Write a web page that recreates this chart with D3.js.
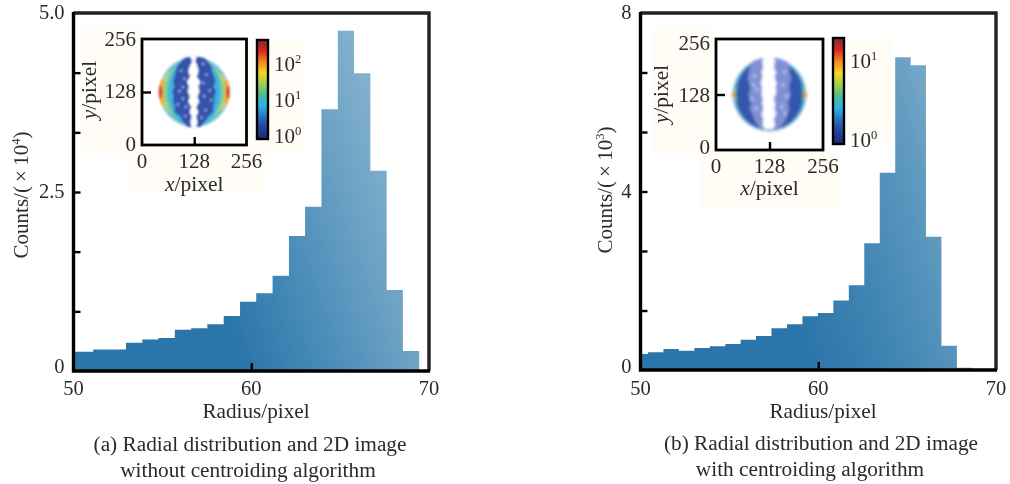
<!DOCTYPE html>
<html><head><meta charset="utf-8">
<script src="https://cdn.jsdelivr.net/npm/d3@7"></script>
<style>
html,body{margin:0;padding:0;background:#fff}
svg{display:block}
text{font-family:"Liberation Serif",serif;fill:#2b2b2b}
</style></head><body>
<svg id="c" width="1010" height="484"></svg>
<script>
// ---------- data ----------
const edgesA = [50,51.11,52.03,52.95,53.87,54.78,55.70,56.62,57.53,58.45,59.37,60.28,61.20,62.12,63.03,63.95,64.87,65.78,66.70,67.62,68.53,69.45];
const countsA = [0.27,0.30,0.30,0.395,0.44,0.46,0.577,0.596,0.652,0.768,0.968,1.085,1.331,1.885,2.295,3.655,4.753,4.158,2.797,1.131,0.279];
const edgesB = [50,50.42,51.29,52.16,53.03,53.90,54.77,55.63,56.50,57.37,58.24,59.11,59.98,60.85,61.72,62.59,63.46,64.33,65.20,66.06,66.93,67.80,68.67];
const countsB = [0.359,0.397,0.471,0.433,0.493,0.531,0.583,0.679,0.762,0.934,1.024,1.203,1.277,1.557,1.898,2.839,4.421,7.007,6.828,2.987,0.545,0.052];
const xTicks = [50,60,70];
const yLabelsA = [0,2.5,5.0];
const yTicksA = [0.833,1.667,2.5,3.333,4.167];
const yLabelsB = [0,4,8];
const yTicksB = [1.333,2.667,4,5.333,6.667];
const insetTicks = [0,128,256];
// inset image rows (pixel coordinates)
const rowsA = [214,202,190,178,165,153,141,129,117,104,92,80,68,56,43];
const bandOuterLA = [106,96,86,83,79,76,79,74,77,76,81,79,94,100,112];
const bandInnerLA = [118,123,117,113,118,110,115,112,117,113,121,116,122,118,122];
const bandInnerRA = [133,131,136,139,134,143,138,141,136,140,133,138,133,136,133];
const bandOuterRA = [152,161,170,172,177,180,175,182,177,178,174,175,162,154,143];
const specksA = [[96,180],[104,160],[92,130],[100,112],[108,92],[88,98],[106,70],[150,196],[158,170],[150,150],[166,132],[152,118],[170,108],[156,84],[146,66],[100,140]];
const rowsB = [215,203,191,179,167,155,143,131,119,107,95,83,71,59,47];
const paleLB = [91,84,81,79,76,79,83,78,81,84,81,87,91,99,106];
const paleRB = [165,172,177,175,180,177,174,179,175,172,175,170,167,159,150];
const gapLB = [114,110,113,108,111,106,110,108,111,110,113,108,113,111,116];
const gapRB = [138,142,138,145,140,146,143,145,138,143,140,145,138,142,137];
const specksB = [[92,170],[98,140],[86,118],[96,96],[90,150],[164,180],[160,150],[170,124],[158,100],[166,84]];
// colour bar stops and labels
const jetStops = ["#7a2b35","#e2231f","#f58a20","#f3d52a","#9fcf4a","#45bd9a","#28b2e4","#2a6fb8","#23409a","#1d2a72"];
const cbLabelsA = [["2",71],["1",107],["0",143]];
const cbLabelsB = [["1",68],["0",147]];

const svg = d3.select("#c");
const defs = svg.append("defs");
defs.append("filter").attr("id","soft").append("feGaussianBlur").attr("stdDeviation",0.55);
defs.append("filter").attr("id","softT").append("feGaussianBlur").attr("stdDeviation",0.35);
defs.append("filter").attr("id","imga").attr("x","-10%").attr("y","-10%").attr("width","120%").attr("height","120%").append("feGaussianBlur").attr("stdDeviation",1.0);
defs.append("filter").attr("id","imgb").attr("x","-10%").attr("y","-10%").attr("width","120%").attr("height","120%").append("feGaussianBlur").attr("stdDeviation",1.7);
const cb = defs.append("linearGradient").attr("id","jet").attr("x1",0).attr("x2",0).attr("y1",0).attr("y2",1);
jetStops.forEach((c,i)=>cb.append("stop").attr("offset",i/(jetStops.length-1)).attr("stop-color",c));

function supLabel(g,x,y,anchor,size,base,sup,opts={}){
  const t=g.append("text").attr("x",x).attr("y",y).attr("text-anchor",anchor).attr("font-size",size);
  t.append("tspan").text(base);
  t.append("tspan").attr("font-size",size*0.6).attr("dy",-size*0.36).text(sup);
  if(opts.after) t.append("tspan").attr("dy",size*0.36).text(opts.after);
  return t;
}

function panel(o){
  const root = svg.append("g");
  // cream patches behind the inset
  root.selectAll("rect.patch").data(o.patches).join("rect").attr("class","patch")
    .attr("x",d=>d[0]).attr("y",d=>d[1]).attr("width",d=>d[2]).attr("height",d=>d[3]).attr("fill","#fffdf6");
  const x = d3.scaleLinear().domain([50,70]).range([o.l,o.r]);
  const y = d3.scaleLinear().domain([0,o.yMax]).range([o.b,o.t]);
  const grad = defs.append("linearGradient").attr("id","g"+o.id).attr("gradientUnits","userSpaceOnUse")
    .attr("x1",o.l+170).attr("y1",o.b).attr("x2",o.l+380).attr("y2",o.b-75);
  o.stops.forEach(s=>grad.append("stop").attr("offset",s[0]).attr("stop-color",s[1]));
  const steps = o.counts.map((c,i)=>({e:o.edges[i],c})).concat([{e:o.edges[o.counts.length],c:o.counts[o.counts.length-1]}]);
  root.append("path").attr("filter","url(#soft)")
    .attr("d",d3.area().curve(d3.curveStepAfter).x(d=>x(d.e)).y0(o.b).y1(d=>y(d.c))(steps))
    .attr("fill","url(#g"+o.id+")");
  // frame
  const fr = root.append("g").attr("filter","url(#soft)");
  fr.append("path").attr("d",`M${o.l},${o.t}H${o.r}V${o.b}`).attr("fill","none").attr("stroke","#222").attr("stroke-width",3.4);
  fr.append("path").attr("d",`M${o.l},${o.t-1}V${o.b}H${o.r+1}`).attr("fill","none").attr("stroke","#000").attr("stroke-width",3.4);
  const ay = fr.append("g").attr("transform",`translate(${o.l},0)`).call(d3.axisLeft(y).tickValues(o.yTicks).tickSize(-7).tickFormat(""));
  const ax = fr.append("g").attr("transform",`translate(0,${o.b})`).call(d3.axisBottom(x).tickValues([60]).tickSize(-8).tickFormat(""));
  [ay,ax].forEach(a=>{a.select(".domain").remove();a.selectAll("line").attr("stroke","#000").attr("stroke-width",2.4);});
  // text
  const T = root.append("g").attr("filter","url(#softT)");
  T.selectAll("text.xl").data(xTicks).join("text").attr("class","xl").attr("x",d=>x(d)).attr("y",395)
    .attr("text-anchor","middle").attr("font-size",20.5).text(d=>d);
  T.selectAll("text.yl").data(o.yLabels).join("text").attr("class","yl").attr("x",o.l-9)
    .attr("y",d=>d===0?373:y(d)+6).attr("text-anchor","end").attr("font-size",20.5).text(o.fmt);
  T.append("text").attr("x",o.radX).attr("y",418).attr("text-anchor","middle").attr("font-size",21.2).text("Radius/pixel");
  T.append("text").attr("x",o.capX1).attr("y",o.capY).attr("text-anchor","middle").attr("font-size",o.capSize).text(o.cap1);
  T.append("text").attr("x",o.capX2).attr("y",o.capY+26).attr("text-anchor","middle").attr("font-size",o.capSize).text(o.cap2);
  const yg = T.append("g").attr("transform",`translate(${o.yLabX},${o.yLabY}) rotate(-90)`);
  supLabel(yg,0,0,"middle",21,"Counts/(\u2009×\u200910",o.yExp,{after:")"});

  // inset
  const ix = d3.scaleLinear().domain([0,256]).range([o.ix0,o.ix1]);
  const iy = d3.scaleLinear().domain([0,256]).range([o.iy1,o.iy0]);
  const clipId="clip"+o.id;
  defs.append("clipPath").attr("id",clipId).append("circle").attr("cx",ix(128)).attr("cy",iy(128)).attr("r",ix(128+o.discR)-ix(128));
  const im = root.append("g").attr("filter",`url(#img${o.id})`).append("g").attr("clip-path",`url(#${clipId})`);
  const ell=(cx,cy,rx,ry,c)=>im.append("ellipse").attr("cx",ix(cx)).attr("cy",iy(cy)).attr("rx",ix(128+rx)-ix(128)).attr("ry",ix(128+ry)-ix(128)).attr("fill",c);
  o.layers.forEach(l=>ell(128+l[0],128+l[1],l[2],l[3],l[4]));
  const area = d3.area().y(d=>iy(d.y)).x0(d=>ix(d.a)).x1(d=>ix(d.b)).curve(d3.curveLinear);
  o.bands.forEach(b=>{
    const pts=b.rows.map((r,i)=>({y:r,a:b.a[i],b:b.b[i]}));
    im.append("path").attr("d",area(pts)).attr("fill",b.c);
  });
  im.selectAll("circle.s").data(o.specks).join("circle").attr("class","s")
    .attr("cx",d=>ix(d[0])).attr("cy",d=>iy(d[1])).attr("r",o.speckR).attr("fill",o.speckC);
  // inset frame
  const fi = root.append("g").attr("filter","url(#softT)");
  fi.append("rect").attr("x",o.ix0).attr("y",o.iy0).attr("width",o.ix1-o.ix0).attr("height",o.iy1-o.iy0).attr("fill","none").attr("stroke","#000").attr("stroke-width",2.8);
  const iay=fi.append("g").attr("transform",`translate(${o.ix0},0)`).call(d3.axisLeft(iy).tickValues([128]).tickSize(-9).tickFormat(""));
  const iax=fi.append("g").attr("transform",`translate(0,${o.iy1})`).call(d3.axisBottom(ix).tickValues([128]).tickSize(-8).tickFormat(""));
  [iay,iax].forEach(a=>{a.select(".domain").remove();a.selectAll("line").attr("stroke","#000").attr("stroke-width",2.4);});
  T.selectAll("text.ixl").data(insetTicks).join("text").attr("class","ixl").attr("x",d=>ix(d)).attr("y",o.ixTickY)
    .attr("text-anchor","middle").attr("font-size",21).text(d=>d);
  T.selectAll("text.iyl").data(insetTicks).join("text").attr("class","iyl").attr("x",o.ix0-6).attr("y",d=>o.iyBase[d])
    .attr("text-anchor","end").attr("font-size",21).text(d=>d);
  const xl=T.append("text").attr("x",ix(128)).attr("y",o.ixLabY).attr("text-anchor","middle").attr("font-size",21.5);
  xl.append("tspan").attr("font-style","italic").text("x"); xl.append("tspan").text("/pixel");
  const yl=T.append("text").attr("transform",`translate(${o.iyLabX},${o.iyLabY}) rotate(-90)`).attr("text-anchor","middle").attr("font-size",21.5);
  yl.append("tspan").attr("font-style","italic").text("y"); yl.append("tspan").text("/pixel");
  // colour bar
  fi.append("rect").attr("x",o.cb[0]).attr("y",o.cb[1]).attr("width",o.cb[2]).attr("height",o.cb[3]).attr("fill","url(#jet)").attr("stroke","#000").attr("stroke-width",2.4);
  o.cbLabels.forEach(l=>supLabel(T,o.cbLabX,l[1],"start",21,"10",l[0]));
}

panel({id:"a",edges:edgesA,counts:countsA,yMax:5,l:73.5,r:429,t:13,b:371,
  stops:[[0,"#2b74a9"],[0.3,"#4388b5"],[0.72,"#6ca2c5"],[1,"#86b3ce"]],
  yTicks:yTicksA,yLabels:yLabelsA,fmt:d=>d===0?"0":d.toFixed(1),radX:256,
  capX1:250,capX2:248,capY:451,capSize:21.3,cap1:"(a) Radial distribution and 2D image",cap2:"without centroiding algorithm",
  yLabX:28,yLabY:195,yExp:"4",
  patches:[[82,27,60,128],[244,40,60,112],[126,148,140,42]],
  ix0:142,ix1:246.5,iy0:39,iy1:145,discR:87,
  layers:[[0,0,87,87,"#a9d2ec"],[0,0,84,84,"#62c3cf"],[0,0,85,70,"#d8d860"],[-80,0,9,32,"#f2a934"],[80,0,9,32,"#f2a934"],[-84,0,6,16,"#d9412b"],[84,0,6,16,"#d9412b"],[0,0,76,78,"#8ccf88"],[0,0,66,84,"#3fb4e2"]],
  bands:[{rows:rowsA,a:bandInnerLA,b:bandInnerRA,c:"#ffffff"},{rows:rowsA,a:bandOuterLA,b:bandInnerLA,c:"#3452ab"},{rows:rowsA,a:bandOuterRA,b:bandInnerRA,c:"#3452ab"}],
  specks:specksA,speckR:1.3,speckC:"#9aa8e4",
  ixTickY:168,iyBase:{0:151,128:98,256:46},ixLabY:191,iyLabX:96,iyLabY:90,
  cb:[257,40,11,99],cbLabels:cbLabelsA,cbLabX:274});

panel({id:"b",edges:edgesB,counts:countsB,yMax:8,l:640.5,r:996,t:13,b:370,
  stops:[[0,"#2b74a9"],[0.35,"#3f84b2"],[0.75,"#609ac0"],[1,"#7fadca"]],
  yTicks:yTicksB,yLabels:yLabelsB,fmt:d=>String(d),radX:823,
  capX1:821,capX2:810,capY:450,capSize:21.3,cap1:"(b) Radial distribution and 2D image",cap2:"with centroiding algorithm",
  yLabX:612,yLabY:190,yExp:"3",
  patches:[[652,27,62,128],[846,40,46,100],[700,150,140,60]],
  ix0:716,ix1:823,iy0:39,iy1:150,discR:89,
  layers:[[0,0,89,89,"#a8cfe9"],[0,0,86,86,"#3f9ace"],[0,0,87,55,"#4fb8c0"],[0,0,87,38,"#85c97a"],[-87,0,3,9,"#e0703a"],[87,0,3,9,"#e0703a"],[0,0,80,86,"#3557ad"]],
  bands:[{rows:rowsB,a:gapLB,b:gapRB,c:"#ffffff"},{rows:rowsB,a:paleLB,b:gapLB,c:"#7f90d4"},{rows:rowsB,a:paleRB,b:gapRB,c:"#7f90d4"}],
  specks:specksB,speckR:2,speckC:"#b4bee8",
  ixTickY:173,iyBase:{0:154,128:102,256:50},ixLabY:195,iyLabX:668,iyLabY:94,
  cb:[833,38,11,106],cbLabels:cbLabelsB,cbLabX:850});
</script>
</body></html>
